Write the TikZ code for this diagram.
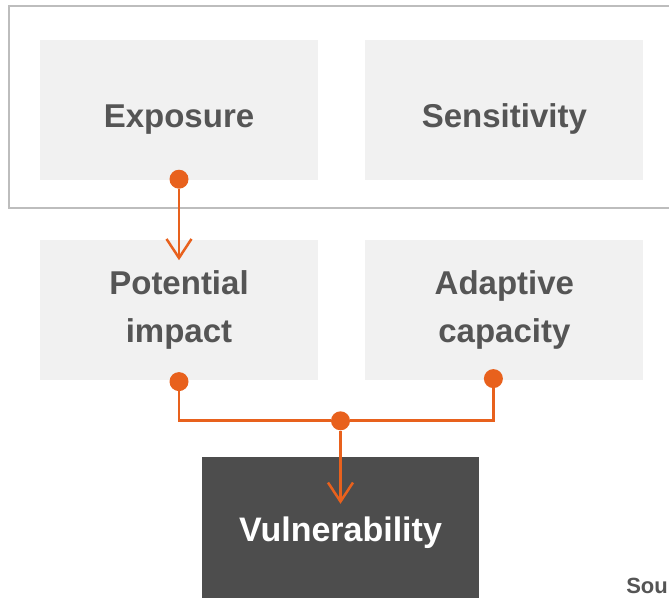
\documentclass[tikz,border=0pt]{standalone}
\usepackage{fontspec}
\setmainfont{Liberation Sans}
\usetikzlibrary{arrows.meta,positioning,calc}
\definecolor{boxgray}{HTML}{F1F1F1}
\definecolor{textgray}{HTML}{555555}
\definecolor{darkbox}{HTML}{4D4D4D}
\definecolor{framegray}{HTML}{BDBDBD}
\definecolor{linkorange}{HTML}{E8611D}

\begin{document}
\begin{tikzpicture}[x=1pt,y=-1pt,node distance=60pt and 47pt,
  >={Straight Barb[length=19pt,width=25pt,line width=2.5pt]},
  factor/.style={fill=boxgray,text=textgray,minimum width=278pt,minimum height=140pt,
    align=center,font=\bfseries\fontsize{33}{48}\selectfont,
    execute at begin node={\rule{0pt}{41pt}}},
  result/.style={fill=darkbox,text=white,minimum width=277pt,minimum height=152pt,
    font=\bfseries\fontsize{34}{40}\selectfont},
  dot/.style={circle,fill=linkorange,inner sep=0pt,minimum size=19pt},
  link/.style={draw=linkorange,line width=2.7pt}]
\useasboundingbox (0,0) rectangle (669,597);

% define the boxes
  \draw[framegray,line width=2pt] (9,6) rectangle (700,208);
  \node[factor] (exposure)    at (179,110)             {Exposure};
  \node[factor] (sensitivity) [right=of exposure]     {Sensitivity};
  \node[factor] (potential)   [below=of exposure]     {Potential\\impact};
  \node[factor] (adaptive)    [right=of potential]    {Adaptive\\capacity};
  \node[result] (vuln)        at (340.5,533)          {Vulnerability};
  \node[text=textgray,font=\bfseries\fontsize{22}{26}\selectfont,anchor=base east,inner sep=0pt]
    (source) at (668,593) {Sou};

% define the links
  \node[dot] (ex-out) at ([yshift=1pt]exposure.south) {};
  \node[dot] (pi-out) at ([yshift=-1pt]potential.south) {};
  \node[dot] (ac-out) at ([xshift=-11pt,yshift=2pt]adaptive.south) {};
  \node[dot] (join)   at ($(vuln.north)+(0,-36)$) {};
  \coordinate (pi-in) at ($(potential.north)+(0,20)$);
  \coordinate (vu-in) at ($(vuln.north)+(0,47)$);

  \draw[link,->] (ex-out) -- (pi-in);
  \draw[link] (pi-out) |- (join) -| (ac-out);
  \draw[link,->] (join) -- (vu-in);
\end{tikzpicture}
\end{document}
